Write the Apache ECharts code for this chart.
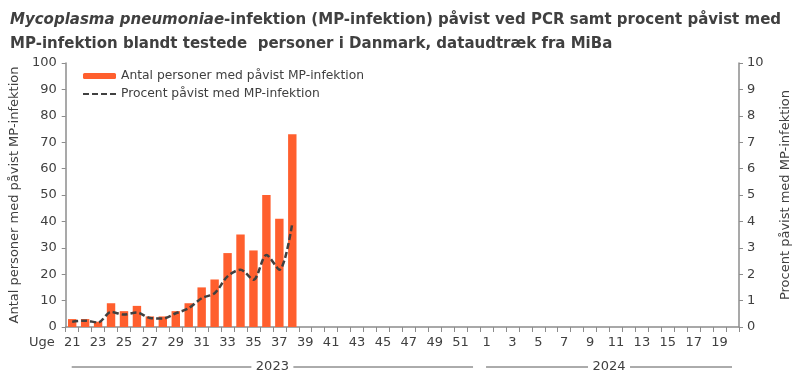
<!DOCTYPE html>
<html>
<head>
<meta charset="utf-8">
<script src="https://cdn.jsdelivr.net/npm/echarts@6/dist/echarts.min.js"></script>
<style>
  html, body { margin: 0; padding: 0; background: #fff; }
  #chart { width: 800px; height: 377px; }
</style>
</head>
<body>
<div id="chart"></div>
<script>
// uger: 21-52 i 2023, 1-20 i 2024
const weeks = ['21','22','23','24','25','26','27','28','29','30','31','32','33','34','35','36',
  '37','38','39','40','41','42','43','44','45','46','47','48','49','50','51','52',
  '1','2','3','4','5','6','7','8','9','10','11','12','13','14','15','16','17','18','19','20'];
const cases = [3, 3, 2, 9, 6, 8, 4, 4, 6, 9, 15, 18, 28, 35, 29, 50, 41, 73];
const percent = [0.20, 0.24, 0.17, 0.57, 0.47, 0.55, 0.34, 0.32, 0.52, 0.71, 1.09, 1.28, 1.92, 2.17, 1.79, 2.73, 2.17, 3.93];
const years = ['2023', '2024'];
const yearFirstWeek = ['21', '1'];
const yearLastWeek = ['52', '20'];

const font = 'DejaVu Sans';
const txt = '#404040';
const axisGrey = '#8c8c8c';

const chart = echarts.init(document.getElementById('chart'), null, { renderer: 'canvas' });

chart.setOption({
  animation: false,
  textStyle: { fontFamily: font, color: txt },
  title: {
    left: 5, top: 3,
    text: '{i|Mycoplasma pneumoniae}{b|-infektion (MP-infektion) påvist ved PCR samt procent påvist med}\n{b|MP-infektion blandt testede  personer i Danmark, dataudtræk fra MiBa}',
    textStyle: {
      rich: {
        i: { fontFamily: font, fontSize: 15, fontWeight: 'bold', fontStyle: 'italic', color: txt, lineHeight: 24 },
        b: { fontFamily: font, fontSize: 15, fontWeight: 'bold', color: txt, lineHeight: 24 },
      },
    },
  },
  legend: {
    orient: 'vertical',
    left: 77, top: 65,
    itemWidth: 33, itemHeight: 6, itemGap: 6,
    textStyle: { fontFamily: font, fontSize: 12.3, color: txt },
    data: [
      { name: 'Antal personer med påvist MP-infektion' },
      { name: 'Procent påvist med MP-infektion', itemStyle: { opacity: 0 } },
    ],
  },
  grid: { left: 62, right: 51, top: 63, bottom: 50 },
  xAxis: {
    type: 'category',
    data: weeks,
    boundaryGap: true,
    axisLine: { lineStyle: { color: axisGrey, width: 1.5 } },
    axisTick: { show: true, length: 5, interval: 0, lineStyle: { color: axisGrey } },
    axisLabel: { interval: 1, margin: 9, fontFamily: font, fontSize: 13, color: txt },
  },
  yAxis: [{
    type: 'value', min: 0, max: 100, interval: 10,
    name: 'Antal personer med påvist MP-infektion',
    nameLocation: 'middle', nameGap: 44, nameRotate: 90,
    nameTextStyle: { fontFamily: font, fontSize: 13, color: txt },
    axisLine: { show: true, lineStyle: { color: axisGrey, width: 1.5 } },
    axisTick: { show: true, length: 4, lineStyle: { color: axisGrey } },
    axisLabel: { margin: 9, fontFamily: font, fontSize: 13, color: txt },
    splitLine: { show: false },
  }, {
    type: 'value', min: 0, max: 10, interval: 1,
    position: 'right',
    name: 'Procent påvist med MP-infektion',
    nameLocation: 'middle', nameGap: 40, nameRotate: 90,
    nameTextStyle: { fontFamily: font, fontSize: 13, color: txt },
    axisLine: { show: true, lineStyle: { color: axisGrey, width: 1.5 } },
    axisTick: { show: true, length: 4, lineStyle: { color: axisGrey } },
    axisLabel: { margin: 8, fontFamily: font, fontSize: 13, color: txt },
    splitLine: { show: false },
  }],
  series: [{
    name: 'Antal personer med påvist MP-infektion',
    type: 'bar',
    data: cases,
    barWidth: '65%',
    itemStyle: { color: '#ff5f2e' },
  }, {
    name: 'Procent påvist med MP-infektion',
    type: 'line',
    yAxisIndex: 1,
    data: percent,
    smooth: 0.3,
    symbol: 'none',
    lineStyle: { color: '#404040', width: 2.5, type: [6, 3] },
    itemStyle: { color: '#404040' },
  }],
});

// år-markering under ugeaksen
const step = chart.convertToPixel({ xAxisIndex: 0 }, '22') - chart.convertToPixel({ xAxisIndex: 0 }, '21');
const lineY = 367;
const graphics = [{
  type: 'text', left: 29, top: 336,
  style: { text: 'Uge', font: `13px "${font}"`, fill: txt },
}];
years.forEach((y, i) => {
  const x0 = chart.convertToPixel({ xAxisIndex: 0 }, yearFirstWeek[i]) - step / 2 + 6;
  const x1 = chart.convertToPixel({ xAxisIndex: 0 }, yearLastWeek[i]) + step / 2 - 7;
  const mid = (x0 + x1) / 2;
  const half = 21;
  graphics.push(
    { type: 'line', shape: { x1: x0, y1: lineY, x2: mid - half, y2: lineY }, style: { stroke: '#595959', lineWidth: 1 } },
    { type: 'line', shape: { x1: mid + half, y1: lineY, x2: x1, y2: lineY }, style: { stroke: '#595959', lineWidth: 1 } },
    { type: 'text', x: mid, y: lineY, style: { text: y, font: `13px "${font}"`, fill: txt, align: 'center', verticalAlign: 'middle' } },
  );
});
chart.setOption({ graphic: graphics });
</script>
</body>
</html>
